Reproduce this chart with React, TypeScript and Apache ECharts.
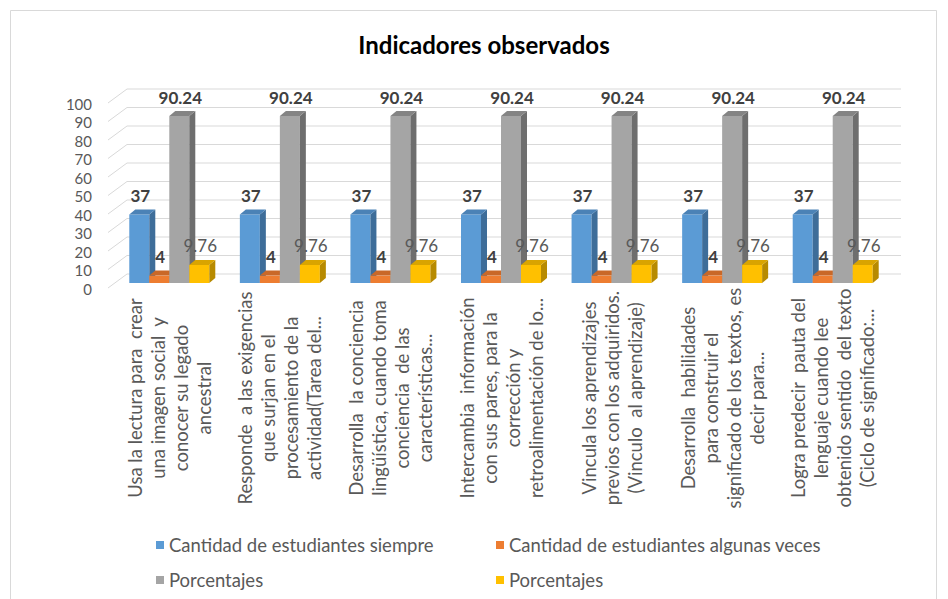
import React, { useEffect, useRef } from 'react';
import * as echarts from 'echarts';

const categories = [
  'Usa la lectura para  crear\nuna imagen social  y\nconocer su legado\nancestral',
  'Responde  a las exigencias\nque surjan en el\nprocesamiento de la\nactividad(Tarea del...',
  'Desarrolla  la conciencia\nlingüística, cuando toma\nconciencia  de las\ncaracterísticas...',
  'Intercambia  información\ncon sus pares, para la\ncorrección y\nretroalimentación de lo...',
  'Vincula los aprendizajes\nprevios con los adquiridos.\n(Vinculo  al aprendizaje)',
  'Desarrolla  habilidades\npara construir el\nsignificado de los textos, es\ndecir para...',
  'Logra predecir  pauta del\nlenguaje cuando lee\nobtenido sentido  del texto\n(Ciclo de significado:...',
];
const siempre = [37, 37, 37, 37, 37, 37, 37];
const algunasVeces = [4, 4, 4, 4, 4, 4, 4];
const porcentajesSiempre = [90.24, 90.24, 90.24, 90.24, 90.24, 90.24, 90.24];
const porcentajesAlgunas = [9.76, 9.76, 9.76, 9.76, 9.76, 9.76, 9.76];
const yTicks = [0, 10, 20, 30, 40, 50, 60, 70, 80, 90, 100];
const seriesNames = [
  'Cantidad de estudiantes siempre',
  'Cantidad de estudiantes algunas veces',
  'Porcentajes',
  'Porcentajes',
];

const FONT = 'Lato, "Open Sans", sans-serif';
const TXT = '#595959';

type Shade = { front: string; side: string; top: string };
const shades: Shade[] = [
  { front: '#5B9BD5', side: '#3E6D99', top: '#4B82B6' },
  { front: '#ED7D31', side: '#B05A1F', top: '#C96828' },
  { front: '#A5A5A5', side: '#6E6E6E', top: '#848484' },
  { front: '#FFC000', side: '#B78A00', top: '#D9A400' },
];
const labelStyles = [
  { font: `bold 17px ${FONT}`, fill: '#404040' },
  { font: `bold 17px ${FONT}`, fill: '#404040' },
  { font: `bold 17px ${FONT}`, fill: '#404040' },
  { font: `17px ${FONT}`, fill: '#595959' },
];

const BAR_W = 20;
const DX = 6;
const DY = 5;

function makeBarRenderer(slot: number) {
  const c = shades[slot];
  const ls = labelStyles[slot];
  return (params: any, api: any) => {
    const idx = api.value(0);
    const val = api.value(1);
    const base = api.coord([idx, 0]);
    const topP = api.coord([idx, val]);
    const x0 = base[0] - 2 * BAR_W + slot * BAR_W;
    const yb = base[1];
    const yt = topP[1];
    return {
      type: 'group',
      children: [
        { type: 'rect', shape: { x: x0, y: yt, width: BAR_W, height: yb - yt }, style: { fill: c.front } },
        {
          type: 'polygon',
          shape: { points: [[x0 + BAR_W, yt], [x0 + BAR_W + DX, yt - DY], [x0 + BAR_W + DX, yb - DY], [x0 + BAR_W, yb]] },
          style: { fill: c.side },
        },
        {
          type: 'polygon',
          shape: { points: [[x0, yt], [x0 + DX, yt - DY], [x0 + BAR_W + DX, yt - DY], [x0 + BAR_W, yt]] },
          style: { fill: c.top },
        },
        {
          type: 'text',
          x: x0 + BAR_W / 2 + 1,
          y: yt - 19,
          z2: 20,
          style: { text: String(val), textAlign: 'center', textVerticalAlign: 'middle', font: ls.font, fill: ls.fill },
        },
      ],
    };
  };
}

function gridRenderer(params: any, api: any) {
  const cs = params.coordSys;
  const y = api.coord([0, api.value(1)])[1];
  return {
    type: 'polyline',
    shape: { points: [[cs.x - 6, y + 5], [cs.x + 13, y - 9], [cs.x + cs.width + 13, y - 9]] },
    style: { stroke: '#D9D9D9', lineWidth: 1, fill: 'none' },
    silent: true,
  };
}

export default function App() {
  const ref = useRef<HTMLDivElement>(null);
  useEffect(() => {
    document.body.style.margin = '0';
    const chart = echarts.init(ref.current!, null, { renderer: 'svg' });
    const seriesData = [siempre, algunasVeces, porcentajesSiempre, porcentajesAlgunas];
    const internalNames = [seriesNames[0], seriesNames[1], seriesNames[2] + ' (siempre)', seriesNames[3] + ' (algunas veces)'];
    const legendPos = [
      { left: 156, top: 534 },
      { left: 496, top: 534 },
      { left: 156, top: 569 },
      { left: 496, top: 569 },
    ];
    const option: any = {
      animation: false,
      graphic: [
        {
          type: 'rect',
          z: -10,
          shape: { x: 10.5, y: 10.5, width: 926, height: 620 },
          style: { fill: 'none', stroke: '#D9D9D9', lineWidth: 1 },
        },
        {
          type: 'text',
          x: 484,
          y: 44,
          style: {
            text: 'Indicadores observados',
            textAlign: 'center',
            textVerticalAlign: 'middle',
            font: `bold 24px ${FONT}`,
            fill: '#000000',
          },
        },
      ],
      legend: internalNames.map((n, i) => ({
        data: [n],
        left: legendPos[i].left,
        top: legendPos[i].top,
        padding: 0,
        icon: 'rect',
        itemWidth: 8,
        itemHeight: 8,
        selectedMode: false,
        formatter: () => seriesNames[i],
        textStyle: { color: TXT, fontSize: 18.5, fontFamily: FONT, lineHeight: 22 },
      })),
      grid: { left: 114, right: 60, top: 98, bottom: 316 },
      xAxis: {
        type: 'category',
        data: categories,
        axisLine: { show: false },
        axisTick: { show: false },
        splitLine: { show: false },
        axisLabel: {
          interval: 0,
          rotate: 90,
          align: 'center',
          verticalAlign: 'middle',
          margin: 115,
          lineHeight: 23,
          padding: [0, 0, 12, 0],
          color: TXT,
          fontSize: 18.5,
          fontFamily: FONT,
        },
      },
      yAxis: {
        type: 'value',
        min: 0,
        max: 100,
        interval: 10,
        axisLine: { show: false },
        axisTick: { show: false },
        splitLine: { show: false },
        axisLabel: {
          color: TXT,
          fontSize: 15,
          fontFamily: FONT,
          margin: 22,
          verticalAlign: 'top',
          lineHeight: 11,
        },
      },
      series: [
        {
          type: 'custom',
          name: '__grid',
          silent: true,
          z: 1,
          renderItem: gridRenderer,
          data: yTicks.map((v) => [0, v]),
          encode: { x: 0, y: 1 },
        },
        ...seriesData.map((arr, s) => ({
          type: 'custom',
          name: internalNames[s],
          z: 2,
          itemStyle: { color: shades[s].front },
          renderItem: makeBarRenderer(s),
          data: arr.map((v, i) => [i, v]),
          encode: { x: 0, y: 1 },
        })),
      ],
    };
    chart.setOption(option);
    return () => chart.dispose();
  }, []);
  return <div ref={ref} style={{ width: 948, height: 599 }} />;
}
